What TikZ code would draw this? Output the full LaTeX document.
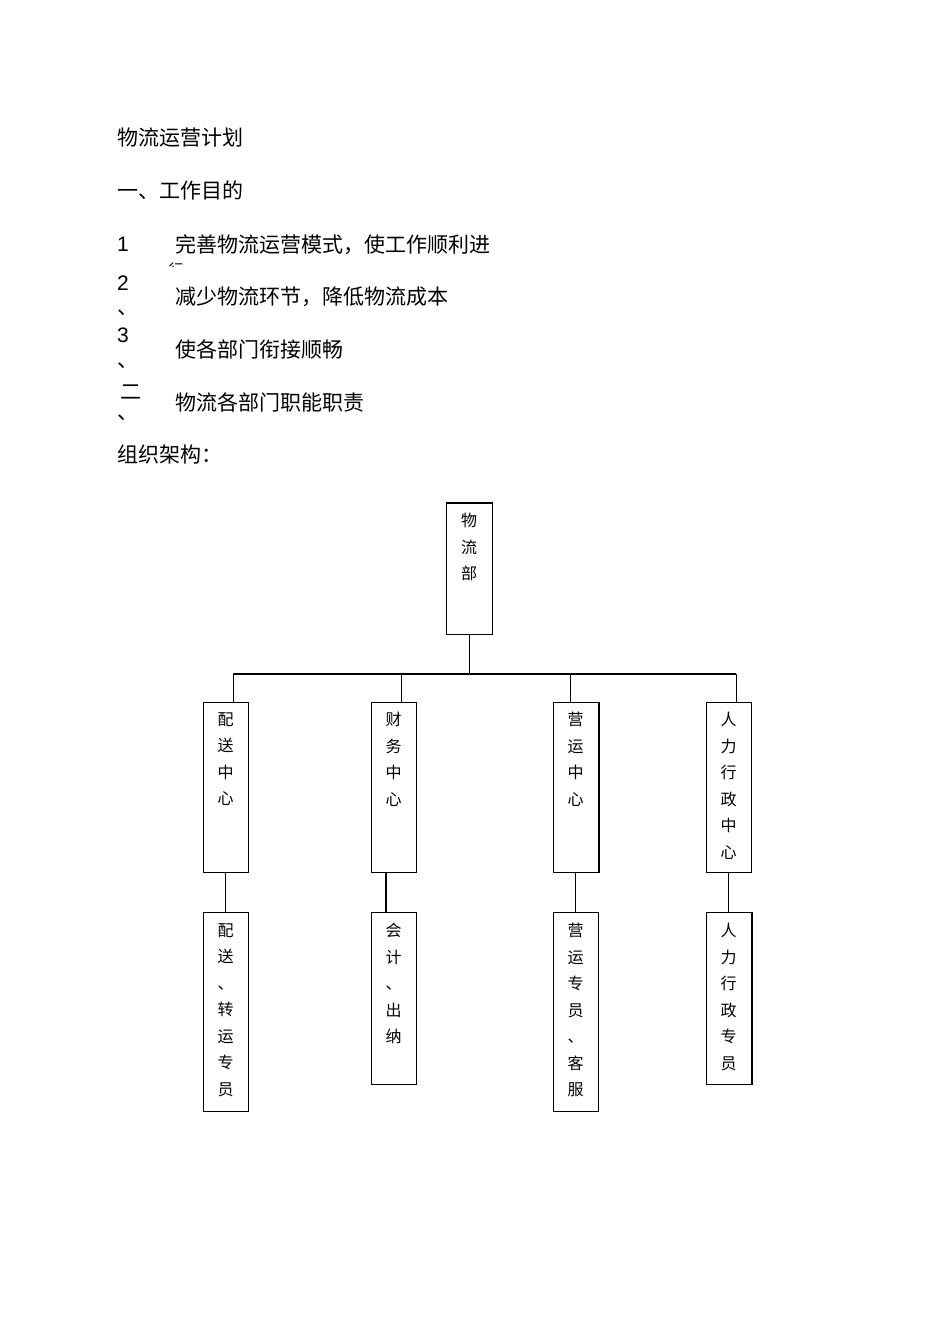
\documentclass[tikz,border=0pt]{standalone}
\usepackage{fontspec}
\setmainfont{Liberation Sans}
\newfontfamily\cjk{Noto Sans CJK SC}
\begin{document}
\begin{tikzpicture}[x=1pt,y=-1pt,
  box/.style={draw,line width=1pt,minimum width=45pt,anchor=north west,inner sep=0pt},
  btxt/.style={font=\cjk\fontsize{16}{26.5}\selectfont,align=center,anchor=north,inner sep=0pt},
  hd/.style={font=\cjk\fontsize{21}{24}\selectfont,anchor=west,inner sep=0pt},
  num/.style={font=\fontsize{21}{24}\selectfont,anchor=west,inner sep=0pt},
  ln/.style={line width=1pt}]
\useasboundingbox (0,0) rectangle (950,1344);
\node[hd] (t1) at (117,138) {物流运营计划};
\node[hd] (t2) at (117,190) {一、工作目的};
\node[num] (n1) at (117,244) {1};
\node[hd] (i1) at (175,245) {完善物流运营模式，使工作顺利进};
\begin{scope}
\clip (160,255) rectangle (200,266);
\node[font=\cjk\fontsize{15}{18}\selectfont,inner sep=0pt] (i1b) at (176,270) {行};
\end{scope}
\node[num] (n2) at (117,283) {2};
\node[hd] (d2) at (117,313) {、};
\node[hd] (i2) at (175,297) {减少物流环节，降低物流成本};
\node[num] (n3) at (117,335) {3};
\node[hd] (d3) at (117,366) {、};
\node[hd] (i3) at (175,349) {使各部门衔接顺畅};
\node[hd] (n4) at (120,392) {二};
\node[hd] (d4) at (117,418) {、};
\node[hd] (i4) at (175,402) {物流各部门职能职责};
\node[hd] (t3) at (117,455) {组织架构：};

\node[box,minimum width=46pt,minimum height=131pt] (top) at (446,503) {};
\node[btxt] (topt) at (469,513) {物\\流\\部};

\foreach \n/\x in {a/203,b/371,c/553,d/706}{
  \node[box,minimum height=170pt] (L\n) at (\x,702) {};
}
\node[btxt] at (225.5,712) {配\\送\\中\\心};
\node[btxt] at (393.5,712) {财\\务\\中\\心};
\node[btxt] at (575.5,712) {营\\运\\中\\心};
\node[btxt] at (728.5,712) {人\\力\\行\\政\\中\\心};

\node[box,minimum height=199pt] (Ma) at (203,912) {};
\node[box,minimum height=172pt] (Mb) at (371,912) {};
\node[box,minimum height=199pt] (Mc) at (553,912) {};
\node[box,minimum height=172pt] (Md) at (706,912) {};
\node[btxt] at (225.5,923) {配\\送\\、\\转\\运\\专\\员};
\node[btxt] at (393.5,923) {会\\计\\、\\出\\纳};
\node[btxt] at (575.5,923) {营\\运\\专\\员\\、\\客\\服};
\node[btxt] at (728.5,923) {人\\力\\行\\政\\专\\员};

\coordinate (hl) at (233,674);
\coordinate (hr) at (736,674);
\draw[line width=2pt] (hl) -- (hr);
\draw[ln] (top.south) -- (top.south |- hl);
\draw[ln] (hl) -- (233,702);
\draw[ln] (401,674) -- (401,702);
\draw[ln] (570,674) -- (570,702);
\draw[ln] (hr) -- (736,702);
\draw[ln] (225,872) -- (225,912);
\draw[line width=2pt] (386,872) -- (386,912);
\draw[ln] (575,872) -- (575,912);
\draw[ln] (728,872) -- (728,912);
\draw[line width=2pt] (Lc.north east) -- (Lc.south east);
\draw[line width=2pt] (Md.north east) -- (Md.south east);
\draw[line width=2pt] (top.north west) -- (top.north east);
\end{tikzpicture}
\end{document}
